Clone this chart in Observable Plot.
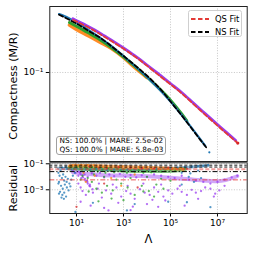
<!DOCTYPE html>
<html><head><meta charset="utf-8">
<script src="https://cdn.jsdelivr.net/npm/d3@7"></script>
<script src="https://cdn.jsdelivr.net/npm/@observablehq/plot@0.6"></script>
<style>
body{margin:0;background:#fff;font-family:"DejaVu Sans",sans-serif;}
#wrap{position:relative;width:254px;height:254px;overflow:hidden;background:#fff;}
#wrap svg{position:absolute;left:0;}
</style></head><body><div id="wrap"></div>
<script>
// ---------- data ----------
const xTicks = [1e1, 1e3, 1e5, 1e7];
const xTickLabels = ["10¹", "10³", "10⁵", "10⁷"];
const yTopTicks = [1e-1];
const yTopTickLabels = ["10⁻¹"];
const yResTicks = [1e-1, 1e-3];
const yResTickLabels = ["10⁻¹", "10⁻³"];

// fits [Λ, M/R]
const nsFit = [[1.8,0.336],[5.6,0.297],[14.8,0.265],[39,0.2335],[105,0.206],[280,0.176],[1000,0.1413],[5290,0.1054],[14100,0.0873],[45700,0.0672],[1e5,0.0545],[2.67e5,0.042],[7.1e5,0.032],[1.89e6,0.0243],[3.75e6,0.0202]];
const qsFit = [[7.2,0.300],[39,0.251],[280,0.195],[2000,0.149],[37500,0.092],[2.7e5,0.0658],[1.9e6,0.0451],[1.3e7,0.0313],[7.3e7,0.0228]];

// data bands [Λ, M/R]
const nsBlue = [[1.8,0.34],[3,0.327],[5,0.310],[9,0.288],[15,0.270],[30,0.246],[50,0.229],[100,0.207],[300,0.175],[1e3,0.1413],[1e4,0.091],[1e5,0.0545],[1e6,0.0295],[3e6,0.0216]];
const nsOrange = [[5,0.270],[10,0.246],[30,0.217],[100,0.189],[300,0.166],[1000,0.137],[3000,0.111],[1e4,0.090]];
const nsGreen = [[5,0.285],[10,0.263],[30,0.231],[100,0.199],[1000,0.139],[1e4,0.091],[1e5,0.056],[3e5,0.042],[5e5,0.0362]];
const qsPurple = [[7,0.308],[12,0.290],[25,0.269],[60,0.243],[150,0.216],[400,0.190],[1e3,0.167],[3e3,0.142],[1e4,0.117],[3e4,0.0975],[1e5,0.0794],[3e5,0.0658],[1e6,0.0521],[3e6,0.0423],[1e7,0.0337],[3e7,0.0274],[6e7,0.0241]];
const qsRedEnd = [[7.3e7,0.0228]];
const nsBlueEnd = [[4.5e6,0.0188]];

// residual bands (dense point clouds) [Λ, residual]
const resOrangeBand = [[5,0.068],[30,0.072],[300,0.062],[3e3,0.054],[3e4,0.047],[3.5e5,0.04]];
const resGreenBand = [[5,0.048],[50,0.042],[500,0.034],[5e3,0.029],[5e4,0.029],[4e5,0.036]];
const resBlueBand = [[1.7,0.045],[10,0.04],[1e3,0.034],[1e5,0.043],[4e6,0.075]];
const resPurpleBand = [[7,0.022],[100,0.014],[1e4,0.011],[1e6,0.006],[1e7,0.0045],[7e7,0.011]];

// residual points [Λ, residual]
const resOrange = [[5,0.06],[6,0.07],[7,0.08],[9,0.085],[12,0.075],[16,0.082],[22,0.07],[30,0.078],[40,0.066],[55,0.074],[75,0.062],[100,0.07],[140,0.06],[200,0.066],[300,0.057],[450,0.062],[650,0.054],[900,0.06],[1300,0.052],[2000,0.057],[3000,0.05],[4500,0.055],[7000,0.048],[1e4,0.052],[1.5e4,0.046],[2.2e4,0.05],[3.3e4,0.044],[5e4,0.048],[8e4,0.042],[1.2e5,0.045],[1.8e5,0.04],[2.6e5,0.042],[3.5e5,0.038],[60,0.012],[20,0.02],[300,0.008],[3e3,0.015],[25,0.004],[800,0.002]];
const resGreen = [[5,0.05],[6,0.065],[8,0.04],[10,0.055],[13,0.07],[17,0.035],[22,0.06],[28,0.045],[36,0.03],[46,0.055],[60,0.04],[80,0.025],[100,0.05],[130,0.035],[170,0.02],[220,0.045],[300,0.03],[400,0.022],[550,0.04],[750,0.028],[1e3,0.035],[1400,0.02],[2e3,0.03],[3e3,0.024],[4500,0.032],[7e3,0.02],[1e4,0.028],[1.5e4,0.022],[2.5e4,0.03],[4e4,0.025],[6e4,0.028],[1e5,0.032],[1.6e5,0.03],[2.5e5,0.035],[4e5,0.04],[33,7.4e-4],[86,1.3e-4],[310,2.1e-4],[1e3,1.6e-4],[7e3,7.4e-4],[30,0.008],[45,0.004],[70,0.0012],[120,6e-4],[200,0.002],[350,9e-4],[800,0.003],[1500,0.0015],[3e3,4e-4],[6e3,0.002],[1.2e4,8e-4],[2.5e4,0.0025],[5e4,0.0012],[1e5,0.005],[15,0.006],[2e4,3e-4],[18,0.012],[55,0.015],[150,0.01],[500,0.006],[2e3,0.008],[1e4,0.01],[4e4,0.007]];
const resBlue = [[1.7,0.02],[1.9,0.012],[2.1,0.03],[2.4,0.008],[2.7,0.015],[3,0.005],[3.4,0.01],[3.8,0.004],[4.3,0.007],[5,0.003],[6,0.006],[7,0.012],[8.5,0.02],[1.8,0.004],[2.2,0.002],[2.6,0.0012],[3.2,0.0025],[3.9,0.0015],[4.6,9e-4],[5.5,0.0018],[2,7e-4],[2.5,4e-4],[3,6e-4],[3.6,3e-4],[1.8,5e-4],[2.3,2.5e-4],[2.9,2e-4],[1.7,0.003],[4,0.04],[5,0.05],[6,0.035],[8,0.045],[2.5,0.05],[3.5,0.06],[10,0.045],[15,0.04],[25,0.038],[40,0.035],[70,0.04],[120,0.036],[200,0.033],[400,0.036],[800,0.034],[1500,0.037],[3e3,0.035],[6e3,0.038],[1.2e4,0.036],[2.5e4,0.04],[5e4,0.042],[1e5,0.045],[2e5,0.05],[4e5,0.055],[8e5,0.06],[1.5e6,0.065],[2.5e6,0.07],[4e6,0.08],[6e5,0.01],[1e6,0.004],[3e5,0.0025],[2e6,0.008],[50,1e-4],[3e3,8e-5],[8e4,1.2e-4],[9,2e-5],[5e5,1.1e-4],[5e6,4.6e-5],[1.4e3,2.6e-5],[3e5,0.02],[1.5e6,0.03],[7e5,0.018]];
const resPurple = [[7,0.03],[9,0.02],[12,0.012],[16,0.008],[22,0.015],[30,0.01],[45,0.018],[70,0.012],[100,0.02],[150,0.009],[250,0.015],[400,0.011],[700,0.017],[1.2e3,0.01],[2e3,0.014],[3.5e3,0.009],[6e3,0.013],[1e4,0.01],[2e4,0.015],[4e4,0.012],[8e4,0.01],[1.5e5,0.008],[3e5,0.012],[6e5,0.006],[1.2e6,0.005],[2.5e6,0.004],[5e6,0.003],[1e7,0.004],[2e7,0.006],[4e7,0.009],[7e7,0.012],[12,0.003],[15,0.0015],[18,8e-4],[25,4e-4],[35,0.002],[50,6e-4],[80,0.0012],[120,2.5e-4],[180,9e-4],[300,5e-4],[500,0.0015],[800,3e-4],[1.3e3,8e-4],[2e3,5e-4],[3e3,2e-4],[5e3,0.0011],[8e3,6e-4],[1.3e4,4e-4],[2e4,0.0015],[3e4,7e-4],[5e4,3e-4],[8e4,9e-4],[1.2e5,5e-4],[2e5,0.0012],[3e5,7e-4],[5e5,4e-4],[8e5,0.001],[1.2e6,6e-4],[2e6,8e-4],[3e6,0.0015],[5e6,0.0012],[8e6,5e-4],[1.2e7,9e-4],[2e7,0.002],[15,1.2e-4],[40,6e-5],[150,4e-5],[600,1e-4],[2.5e3,5e-5],[1e4,8e-5],[6e4,1.5e-4],[4e5,6e-5],[1.5e6,2e-4],[7e6,3e-4],[28,0.005],[90,0.003],[350,0.0025],[1.5e3,0.002],[7e3,0.003],[4e4,0.0025],[2.5e5,0.002],[230,2.6e-5],[2e3,2.7e-5],[1.7e4,1.7e-4],[3e4,4.9e-5],[12,0.025],[15,0.015],[19,0.009],[24,0.005],[30,0.003],[38,0.0018],[48,0.0011],[14,0.02],[18,0.012],[23,0.007],[29,0.004],[37,0.0025]];
const resRed = [[10,4.9e-5],[35,0.06],[90,0.05],[200,0.045],[600,0.055],[2e3,0.05],[6e3,0.048],[2e4,0.045],[8e4,0.05],[150,0.003],[4e3,0.0015],[5e5,0.04]];

// reference levels
const nsDashLevels = [0.078, 0.056];
const qsDashLevels = [0.038];
const nsMare = [0.025];
const qsMare = [0.0058];

const legendItems = [{label:"QS Fit", color:"#e43a36"}, {label:"NS Fit", color:"#000000"}];
const statLines = ["NS: 100.0% | MARE: 2.5e-02", "QS: 100.0% | MARE: 5.8e-03"];

// ---------- drawing ----------
const C = {blue:"#1f77b4", orange:"#ff7f0e", green:"#2ca02c", red:"#d62728", purple:"#9a3cf0", fitRed:"#e43a36"};
const FONT = "DejaVu Sans, sans-serif";
const xDomain = [0.731, 1.84e8];
const ML = 49.3, MR = 7.3;
const gx = d => d[0], gy = d => d[1];
const grid = {stroke:"#b8b8b8", strokeDasharray:"1,1.6", strokeWidth:0.8};
const lab = (ticks, labels) => d => labels[ticks.indexOf(d)];
const CURVE = "monotone-x";

const wrap = document.getElementById("wrap");

const topPlot = Plot.plot({
  width:254, height:162, marginLeft:ML, marginRight:MR, marginTop:6, marginBottom:1,
  style:{background:"none", fontFamily:FONT, overflow:"visible"},
  x:{type:"log", domain:xDomain, axis:null},
  y:{type:"log", domain:[0.01552, 0.398], axis:null},
  marks:[
    Plot.ruleX(xTicks, grid),
    Plot.ruleY(yTopTicks, grid),
    Plot.line(nsOrange, {x:gx, y:gy, stroke:C.orange, strokeWidth:3.6, curve:CURVE, strokeOpacity:0.9}),
    Plot.line(nsGreen, {x:gx, y:gy, stroke:C.green, strokeWidth:3, curve:CURVE}),
    Plot.line(nsBlue, {x:gx, y:gy, stroke:C.blue, strokeWidth:2.2, curve:CURVE}),
    Plot.line(qsPurple, {x:gx, y:gy, stroke:C.purple, strokeWidth:2.8, curve:CURVE}),
    Plot.line(nsFit, {x:gx, y:gy, stroke:"#000", strokeWidth:1.8, strokeDasharray:"4.5,2.5", curve:CURVE}),
    Plot.line(qsFit, {x:gx, y:gy, stroke:C.fitRed, strokeWidth:1.8, strokeDasharray:"4.5,2.5", curve:CURVE}),
    Plot.dot(qsRedEnd, {x:gx, y:gy, r:1.6, fill:C.red}),
    Plot.dot(nsBlueEnd, {x:gx, y:gy, r:1.1, fill:C.blue}),
    Plot.axisY(yTopTicks, {tickFormat:lab(yTopTicks, yTopTickLabels), tickSize:3.5, tickPadding:3, fontSize:9, label:null}),
    Plot.frame({stroke:"#222", strokeWidth:1}),
    Plot.text(["Compactness (M/R)"], {text:d=>d, frameAnchor:"left", textAnchor:"middle", lineAnchor:"middle", dx:-36.8, dy:2, rotate:-90, fontSize:11, fill:"#000"})
  ]
});
topPlot.style.top = "0px";
wrap.appendChild(topPlot);

const dotOpt = (color) => ({x:gx, y:gy, r:1.15, fill:color, fillOpacity:0.75});
const bandOpt = (color, w, op) => ({x:gx, y:gy, stroke:color, strokeWidth:w, strokeOpacity:op, curve:CURVE});
const resPlot = Plot.plot({
  width:254, height:104, marginLeft:ML, marginRight:MR, marginTop:12.3, marginBottom:41,
  style:{background:"none", fontFamily:FONT, overflow:"visible"},
  x:{type:"log", domain:xDomain, axis:null},
  y:{type:"log", domain:[1.5e-5, 0.119], axis:null},
  marks:[
    Plot.ruleX(xTicks, grid),
    Plot.ruleY(yResTicks, grid),
    Plot.line(resPurpleBand, bandOpt(C.purple, 4, 0.45)),
    Plot.line(resBlueBand, bandOpt(C.blue, 3, 0.5)),
    Plot.line(resGreenBand, bandOpt(C.green, 4.5, 0.55)),
    Plot.line(resOrangeBand, bandOpt(C.orange, 3.5, 0.6)),
    Plot.dot(resPurple, dotOpt(C.purple)),
    Plot.dot(resBlue, dotOpt(C.blue)),
    Plot.dot(resGreen, dotOpt(C.green)),
    Plot.dot(resOrange, dotOpt(C.orange)),
    Plot.dot(resRed, dotOpt(C.red)),
    Plot.ruleY(nsDashLevels, {stroke:"#000", strokeWidth:0.9, strokeDasharray:"3,2"}),
    Plot.ruleY(qsDashLevels, {stroke:C.fitRed, strokeWidth:2, strokeOpacity:0.5, strokeDasharray:"4,2"}),
    Plot.ruleY(nsMare, {stroke:"#000", strokeWidth:1, strokeDasharray:"5,2,1.2,2"}),
    Plot.ruleY(qsMare, {stroke:C.fitRed, strokeWidth:1, strokeOpacity:0.85, strokeDasharray:"5,2,1.2,2"}),
    Plot.axisY(yResTicks, {tickFormat:lab(yResTicks, yResTickLabels), tickSize:3.5, tickPadding:3, fontSize:9, label:null}),
    Plot.axisX(xTicks, {tickFormat:lab(xTicks, xTickLabels), tickSize:3.5, tickPadding:3, fontSize:9, label:null}),
    Plot.frame({stroke:"#222", strokeWidth:1}),
    Plot.text(["Residual"], {text:d=>d, frameAnchor:"left", textAnchor:"middle", lineAnchor:"middle", dx:-36.8, rotate:-90, fontSize:11, fill:"#000"}),
    Plot.text(["Λ"], {text:d=>d, frameAnchor:"bottom", textAnchor:"middle", lineAnchor:"middle", dy:26, fontSize:11.5, fill:"#000"})
  ]
});
resPlot.style.top = "150px";
wrap.appendChild(resPlot);

// legend (top right)
const leg = document.createElement("div");
leg.style.cssText = "position:absolute;left:188px;top:10px;width:54px;height:27px;border:1px solid #cfcfcf;border-radius:2.5px;background:rgba(255,255,255,0.85);box-sizing:border-box;";
legendItems.forEach((it, i) => {
  const row = document.createElement("div");
  row.style.cssText = `position:absolute;left:2px;top:${2 + i*13.2}px;height:11px;display:flex;align-items:center;font-size:8.4px;color:#000;white-space:nowrap;`;
  row.innerHTML = `<svg width="18" height="4" style="position:static;margin-right:6px"><line x1="0" y1="2" x2="18" y2="2" stroke="${it.color}" stroke-width="1.8" stroke-dasharray="4.5,2.5"/></svg><span>${it.label}</span>`;
  leg.appendChild(row);
});
wrap.appendChild(leg);

// stats box
const box = document.createElement("div");
box.style.cssText = "position:absolute;left:56px;top:136px;width:110px;height:18.5px;border:1px solid #a0a0a0;border-radius:3px;background:rgba(255,255,255,0.85);box-sizing:border-box;font-size:7.3px;line-height:8.6px;padding:0 0 0 2.6px;color:#000;white-space:nowrap;";
box.innerHTML = statLines.map(s => `<div>${s}</div>`).join("");
wrap.appendChild(box);
</script></body></html>
